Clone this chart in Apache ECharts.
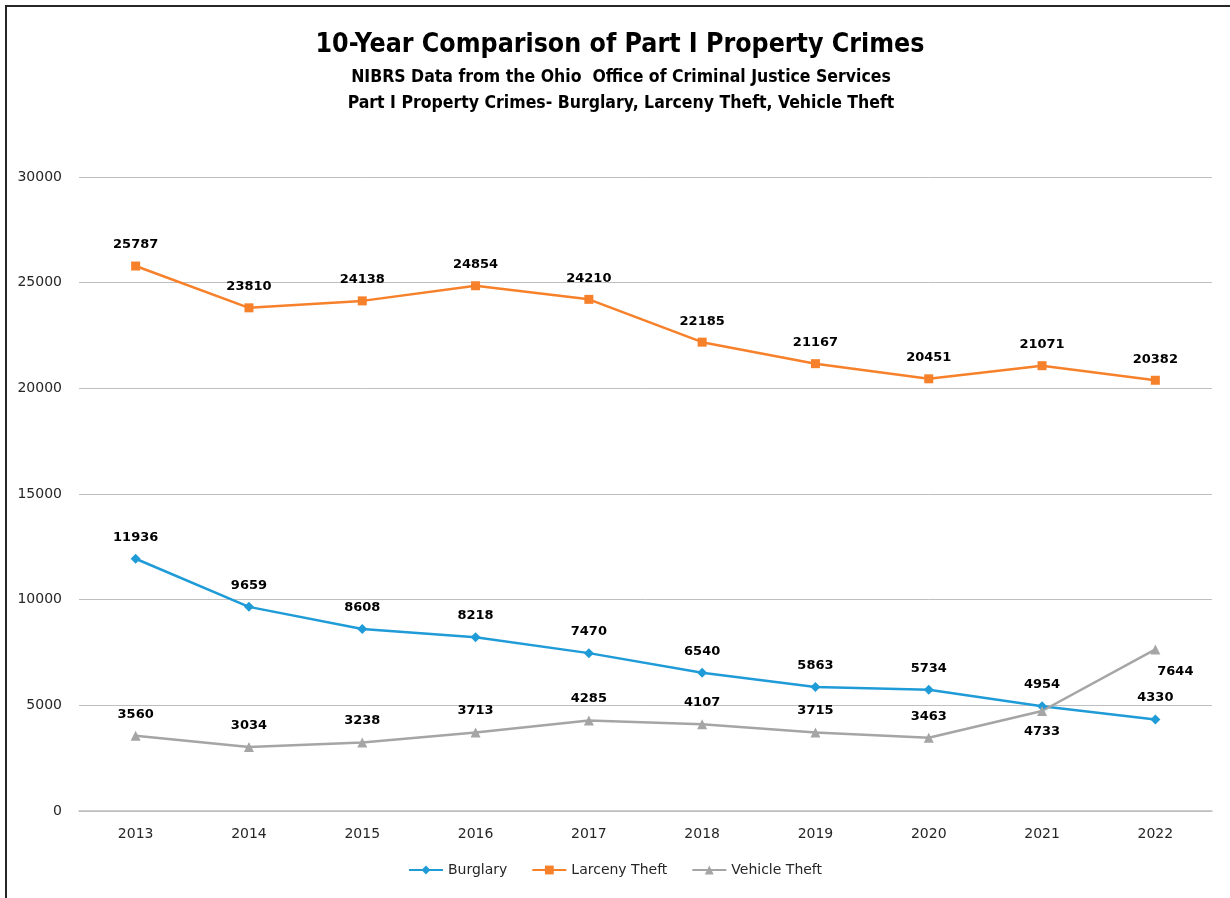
<!DOCTYPE html>
<html>
<head>
<meta charset="utf-8">
<script src="https://cdn.jsdelivr.net/npm/echarts@6/dist/echarts.min.js"></script>
<style>
  html, body { margin: 0; padding: 0; background: #fff; }
  #chart { width: 1230px; height: 898px; }
  #frame { position: absolute; left: 5px; top: 5px; width: 1230px; height: 898px;
           border-left: 2px solid #262626; border-top: 2px solid #262626; pointer-events: none; }
</style>
</head>
<body>
<div id="chart"></div>
<div id="frame"></div>
<script>
const years = ['2013', '2014', '2015', '2016', '2017', '2018', '2019', '2020', '2021', '2022'];
const burglary = [11936, 9659, 8608, 8218, 7470, 6540, 5863, 5734, 4954, 4330];
const larceny = [25787, 23810, 24138, 24854, 24210, 22185, 21167, 20451, 21071, 20382];
const vehicle = [3560, 3034, 3238, 3713, 4285, 4107, 3715, 3463, 4733, 7644];

const titleFont = '"Liberation Sans Narrow", "DejaVu Sans Condensed", sans-serif';
const labelFont = 'DejaVu Sans';

// vehicle theft labels that sit below the point
const vehicleData = vehicle.map(function (v, i) {
    if (i === 8) return { value: v, label: { position: 'bottom', distance: 9 } };
    if (i === 9) return { value: v, label: { position: 'bottom', distance: 11, offset: [20, 0] } };
    return v;
});

function lineSeries(name, data, color, symbol, size) {
    return {
        name: name,
        type: 'line',
        data: data,
        symbol: symbol,
        symbolSize: size,
        showAllSymbol: true,
        lineStyle: { color: color, width: 2.5 },
        itemStyle: { color: color },
        label: {
            show: true,
            position: 'top',
            distance: 10,
            color: '#000',
            fontFamily: labelFont,
            fontWeight: 'bold',
            fontSize: 13
        }
    };
}

const chart = echarts.init(document.getElementById('chart'));
chart.setOption({
    animation: false,
    backgroundColor: '#fff',
    title: [
        { text: '10-Year Comparison of Part I Property Crimes', left: 615, textAlign: 'center', top: 27,
          textStyle: { fontFamily: titleFont, fontSize: 26.5, fontWeight: 'bold', color: '#000' } },
        { text: 'NIBRS Data from the Ohio  Office of Criminal Justice Services', left: 616, textAlign: 'center', top: 63,
          textStyle: { fontFamily: titleFont, fontSize: 17.5, fontWeight: 'bold', color: '#000' } },
        { text: 'Part I Property Crimes- Burglary, Larceny Theft, Vehicle Theft', left: 616, textAlign: 'center', top: 89,
          textStyle: { fontFamily: titleFont, fontSize: 17.5, fontWeight: 'bold', color: '#000' } }
    ],
    legend: {
        bottom: 16,
        left: 'center',
        itemWidth: 34,
        itemHeight: 11,
        itemGap: 24,
        textStyle: { fontFamily: labelFont, fontSize: 14, color: '#262626' },
        data: ['Burglary', 'Larceny Theft', 'Vehicle Theft']
    },
    grid: { left: 79, right: 18, top: 177, bottom: 87, containLabel: false },
    xAxis: {
        type: 'category',
        data: years,
        boundaryGap: true,
        axisLine: { lineStyle: { color: '#bfbfbf', width: 1.5 } },
        axisTick: { show: false },
        axisLabel: { fontFamily: labelFont, fontSize: 14, color: '#262626', margin: 16 }
    },
    yAxis: {
        type: 'value',
        min: 0,
        max: 30000,
        interval: 5000,
        axisLine: { show: false },
        axisTick: { show: false },
        splitLine: { lineStyle: { color: '#bfbfbf', width: 1 } },
        axisLabel: { fontFamily: labelFont, fontSize: 14, color: '#262626', margin: 17,
                     formatter: function (v) { return String(v); } }
    },
    series: [
        lineSeries('Burglary', burglary, '#1f9bd7', 'diamond', 10),
        lineSeries('Larceny Theft', larceny, '#f7812a', 'rect', 9),
        lineSeries('Vehicle Theft', vehicleData, '#a5a5a5', 'triangle', 10)
    ]
});
</script>
</body>
</html>
